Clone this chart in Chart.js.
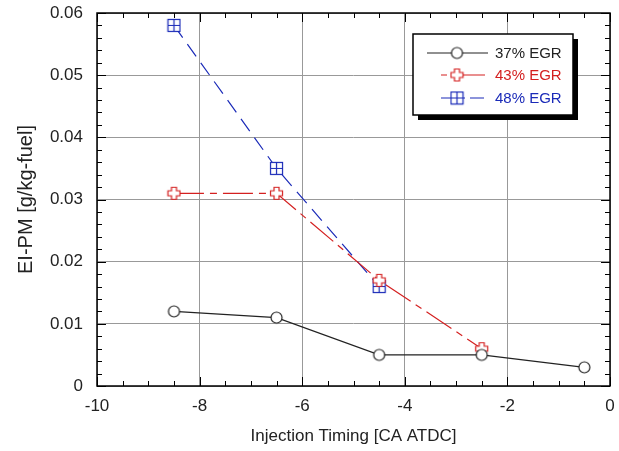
<!DOCTYPE html>
<html>
<head>
<meta charset="utf-8">
<script src="https://cdn.jsdelivr.net/npm/chart.js@4"></script>
<style>
  html, body { margin: 0; padding: 0; background: #fff; }
  #wrap { width: 619px; height: 451px; }
</style>
</head>
<body>
<div id="wrap"><canvas id="myChart" width="619" height="451"></canvas></div>
<script>
// values
const timing37 = [-8.5, -6.5, -4.5, -2.5, -0.5];
const pm37 = [0.012, 0.011, 0.005, 0.005, 0.003];
const timing43 = [-8.5, -6.5, -4.5, -2.5];
const pm43 = [0.031, 0.031, 0.017, 0.006];
const timing48 = [-8.5, -6.5, -4.5];
const pm48 = [0.058, 0.035, 0.016];
const seriesNames = ['37% EGR', '43% EGR', '48% EGR'];
const xTicks = [-10, -8, -6, -4, -2, 0];
const yTicks = [0, 0.01, 0.02, 0.03, 0.04, 0.05, 0.06];

const FONT = '"Liberation Sans", Arial, sans-serif';
const colors = ['#222222', '#d42020', '#1a2ab8'];
const dashes = [[], [30, 6, 7, 6], [15, 8]];

function makeMarker(kind, color) {
  let c = document.createElement('canvas');
  c.width = 15; c.height = 15;
  let g = c.getContext('2d');
  g.strokeStyle = color;
  g.fillStyle = '#fff';
  g.lineWidth = 1.2;
  if (kind == 'circle') {
    g.beginPath();
    g.arc(7.5, 7.5, 5.5, 0, Math.PI * 2);
    g.fill(); g.stroke();
  } else if (kind == 'plus') {
    g.beginPath();
    g.moveTo(5, 1.5); g.lineTo(10, 1.5); g.lineTo(10, 5); g.lineTo(13.5, 5);
    g.lineTo(13.5, 10); g.lineTo(10, 10); g.lineTo(10, 13.5); g.lineTo(5, 13.5);
    g.lineTo(5, 10); g.lineTo(1.5, 10); g.lineTo(1.5, 5); g.lineTo(5, 5);
    g.closePath();
    g.fill(); g.stroke();
  } else {
    g.fillRect(1.5, 1.5, 12, 12);
    g.strokeRect(1.5, 1.5, 12, 12);
    g.beginPath();
    g.moveTo(7.5, 1.5); g.lineTo(7.5, 13.5);
    g.moveTo(1.5, 7.5); g.lineTo(13.5, 7.5);
    g.stroke();
  }
  return c;
}
const markers = [makeMarker('circle', '#222'), makeMarker('plus', colors[1]), makeMarker('square', colors[2])];

function toPoints(xs, ys) {
  let pts = [];
  for (let i = 0; i < xs.length; i++) pts.push({ x: xs[i], y: ys[i] });
  return pts;
}

const frameTicks = {
  id: 'frameTicks',
  beforeDatasetsDraw(chart) {
    const { ctx, chartArea: a, scales } = chart;
    ctx.save();
    ctx.strokeStyle = '#000';
    ctx.lineWidth = 1;
    // minor + major ticks pointing inward on all four sides
    for (let v = -10; v <= 0.001; v += 0.5) {
      let px = Math.round(scales.x.getPixelForValue(v)) + 0.5;
      let len = Math.abs(v % 2) < 0.01 ? 9 : 5;
      ctx.beginPath();
      ctx.moveTo(px, a.bottom); ctx.lineTo(px, a.bottom - len);
      ctx.moveTo(px, a.top); ctx.lineTo(px, a.top + len);
      ctx.stroke();
    }
    for (let k = 0; k <= 30; k++) {
      let v = k * 0.002;
      let py = Math.round(scales.y.getPixelForValue(v)) + 0.5;
      let len = k % 5 == 0 ? 9 : 5;
      ctx.beginPath();
      ctx.moveTo(a.left, py); ctx.lineTo(a.left + len, py);
      ctx.moveTo(a.right, py); ctx.lineTo(a.right - len, py);
      ctx.stroke();
    }
    ctx.lineWidth = 1.5;
    ctx.strokeRect(a.left, a.top, a.right - a.left, a.bottom - a.top);
    ctx.restore();
  },
  afterDraw(chart) {
    const ctx = chart.ctx;
    let bx = 413, by = 34, bw = 160, bh = 81;
    ctx.save();
    ctx.fillStyle = '#000';
    ctx.fillRect(bx + 5, by + 5, bw, bh);
    ctx.fillStyle = '#fff';
    ctx.fillRect(bx, by, bw, bh);
    ctx.strokeStyle = '#000';
    ctx.lineWidth = 1.5;
    ctx.strokeRect(bx, by, bw, bh);
    let rows = [53, 75, 98];
    ctx.font = '15px ' + FONT;
    ctx.textBaseline = 'middle';
    for (let i = 0; i < 3; i++) {
      let y = rows[i];
      ctx.strokeStyle = colors[i];
      ctx.lineWidth = 1.2;
      ctx.beginPath();
      if (i == 0) { ctx.moveTo(427, y); ctx.lineTo(488, y); }
      else if (i == 1) { ctx.moveTo(441, y); ctx.lineTo(447, y); ctx.moveTo(456, y); ctx.lineTo(485, y); }
      else { ctx.moveTo(441, y); ctx.lineTo(465, y); ctx.moveTo(470, y); ctx.lineTo(484, y); }
      ctx.stroke();
      ctx.drawImage(markers[i], 457 - 7.5, y - 7.5);
      ctx.fillStyle = colors[i];
      ctx.fillText(seriesNames[i], 495, y + 1);
    }
    ctx.restore();
  }
};

function makeSet(i, xs, ys) {
  return {
    label: seriesNames[i],
    data: toPoints(xs, ys),
    showLine: true,
    borderColor: colors[i],
    borderWidth: 1.2,
    borderDash: dashes[i],
    pointStyle: markers[i],
    pointRadius: 7,
    backgroundColor: '#fff',
    fill: false,
    tension: 0
  };
}

new Chart(document.getElementById('myChart'), {
  type: 'scatter',
  data: {
    datasets: [
      makeSet(0, timing37, pm37),
      makeSet(1, timing43, pm43),
      makeSet(2, timing48, pm48)
    ]
  },
  options: {
    responsive: false,
    animation: false,
    layout: { autoPadding: false, padding: { left: 0, right: 9, top: 13, bottom: 0 } },
    plugins: { legend: { display: false }, tooltip: { enabled: false } },
    scales: {
      x: {
        type: 'linear',
        min: -10,
        max: 0,
        afterBuildTicks(scale) { scale.ticks = xTicks.map(v => ({ value: v })); },
        afterFit(scale) { scale.height = 65; scale.paddingLeft = 0; scale.paddingRight = 0; },
        ticks: {
          color: '#222',
          font: { family: FONT, size: 17 },
          padding: 10,
          callback: v => String(v)
        },
        grid: { color: '#999', lineWidth: 1, drawTicks: false },
        border: { display: false },
        title: {
          display: true,
          text: 'Injection Timing [CA ATDC]',
          color: '#222',
          font: { family: FONT, size: 17 },
          padding: { top: 0, bottom: 4 }
        }
      },
      y: {
        type: 'linear',
        min: 0,
        max: 0.06,
        afterBuildTicks(scale) { scale.ticks = yTicks.map(v => ({ value: v })); },
        afterFit(scale) { scale.width = 97; scale.paddingTop = 0; scale.paddingBottom = 0; },
        ticks: {
          color: '#222',
          font: { family: FONT, size: 17 },
          padding: 14,
          callback: v => v == 0 ? '0' : v.toFixed(2)
        },
        grid: { color: '#999', lineWidth: 1, drawTicks: false },
        border: { display: false },
        title: {
          display: true,
          text: 'EI-PM [g/kg-fuel]',
          color: '#222',
          font: { family: FONT, size: 20 },
          padding: { top: 14, bottom: 0 }
        }
      }
    }
  },
  plugins: [frameTicks]
});
</script>
</body>
</html>
